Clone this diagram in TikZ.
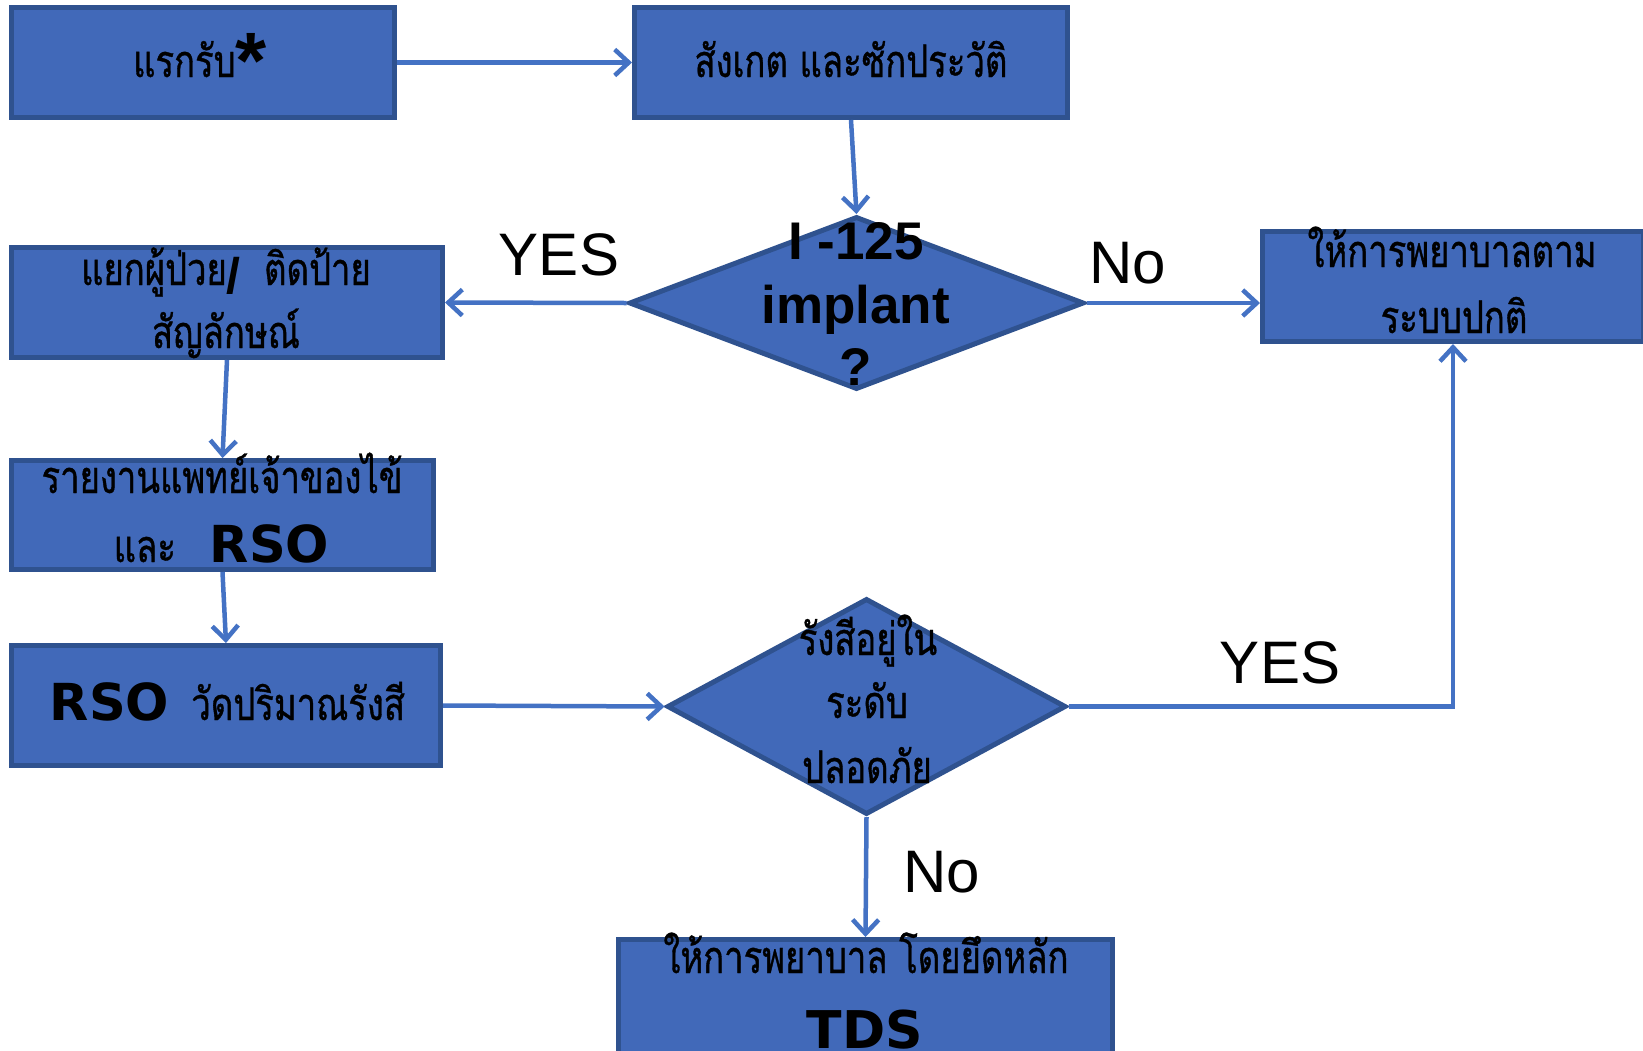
\documentclass[tikz,border=0pt]{standalone}
\usepackage{fontspec}
\setmainfont{Liberation Sans}
\newfontfamily\thai[Script=Thai,FakeStretch=0.77,FakeBold=0.8]{Loma}
\newfontfamily\dvs{DejaVu Sans}
\usetikzlibrary{shapes.geometric,arrows.meta}
\definecolor{boxfill}{HTML}{4169B9}
\definecolor{boxline}{HTML}{2F528F}
\definecolor{arrowc}{HTML}{4472C4}
\begin{document}
\begin{tikzpicture}[x=1pt,y=-1pt,
  box/.style={draw=boxline, fill=boxfill, line width=5pt, rectangle, inner sep=0pt},
  dia/.style={draw=boxline, fill=boxfill, line width=5pt, diamond, inner sep=0pt},
  th/.style={font=\thai\fontsize{45}{45}\selectfont, anchor=base, inner sep=0pt},
  en/.style={font=\fontsize{53}{53}\selectfont\bfseries, anchor=base, inner sep=0pt},
  lbl/.style={font=\fontsize{60}{60}\selectfont, anchor=base, inner sep=0pt},
  arr/.style={draw=arrowc, line width=4.5pt, -{Straight Barb[length=14pt,width=26pt]}}]
\useasboundingbox (0,0) rectangle (1643,1050);
\fill[white] (0,0) rectangle (1643,1050);
% shapes
\node[box, minimum width=383pt, minimum height=110pt] (b1) at (203,62.5) {};
\node[box, minimum width=433pt, minimum height=110pt] (b2) at (851,62.5) {};
\node[box, minimum width=431pt, minimum height=110pt] (b3) at (227,302.5) {};
\node[box, minimum width=381pt, minimum height=110pt] (b4) at (1453,286.5) {};
\node[box, minimum width=422pt, minimum height=109pt] (b5) at (222.5,515) {};
\node[box, minimum width=429pt, minimum height=120pt] (b6) at (226,705.5) {};
\node[box, minimum width=494pt, minimum height=118pt] (b7) at (865.5,998.5) {};
\node[dia, minimum width=455pt, minimum height=173pt] (d1) at (856.5,303) {};
\node[dia, minimum width=399pt, minimum height=216pt] (d2) at (866.5,706.5) {};
% connectors
\draw[arr] (b1) -- (b2);
\draw[arr] (b2.south) -- (d1.north);
\draw[arr] (d1.west) -- (b3.east);
\draw[arr] (d1.east) -- (d1.east -| b4.west);
\draw[arr] (b3.south) -- (b5.north);
\draw[arr] (b5.south) -- (b6.north);
\draw[arr] (b6.east) -- (d2.west);
\draw[arr] (d2.east) -| (b4.south);
\draw[arr] (d2.south) -- (b7.north);
% texts
\node[th] (t1) at (200,77) {แรกรับ{\rmfamily\bfseries\fontsize{80}{80}\selectfont\raisebox{-11pt}{*}}};
\node[th] (t2) at (851,77) {สังเกต และซักประวัติ};
\node[th] (t3a) at (226,285) {แยกผู้ป่วย{\rmfamily\bfseries\fontsize{50}{50}\selectfont\raisebox{-8pt}{/}}\ \ ติดป้าย};
\node[th] (t3b) at (226,348) {สัญลักษณ์};
\node[th] (t4a) at (1452,267) {ให้การพยาบาลตาม};
\node[th] (t4b) at (1454,333) {ระบบปกติ};
\node[th] (t5a) at (222,493) {รายงานแพทย์เจ้าของไข้};
\node[th] (t5b) at (221.5,562) {และ\hspace{34pt}{\dvs\bfseries\fontsize{51}{51}\selectfont RSO}};
\node[th] (t6) at (227.5,720) {{\dvs\bfseries\fontsize{51}{51}\selectfont RSO}\hspace{22pt}วัดปริมาณรังสี};
\node[en] (t7a) at (856,259) {I -125};
\node[en] (t7b) at (855.5,323) {implant};
\node[en] (t7c) at (856,385) {?};
\node[th] (t8a) at (868,655) {รังสีอยู่ใน};
\node[th] (t8b) at (867,718) {ระดับ};
\node[th] (t8c) at (867,783) {ปลอดภัย};
\node[th] (t9a) at (866,973) {ให้การพยาบาล โดยยึดหลัก};
\node[th] (t9b) at (865,1048) {{\dvs\bfseries\fontsize{52}{52}\selectfont TDS}};
% labels
\node[lbl] (l1) at (559,275) {YES};
\node[lbl] (l2) at (1128,283) {No};
\node[lbl] (l3) at (1280,683) {YES};
\node[lbl] (l4) at (941.5,892) {No};
\end{tikzpicture}
\end{document}
